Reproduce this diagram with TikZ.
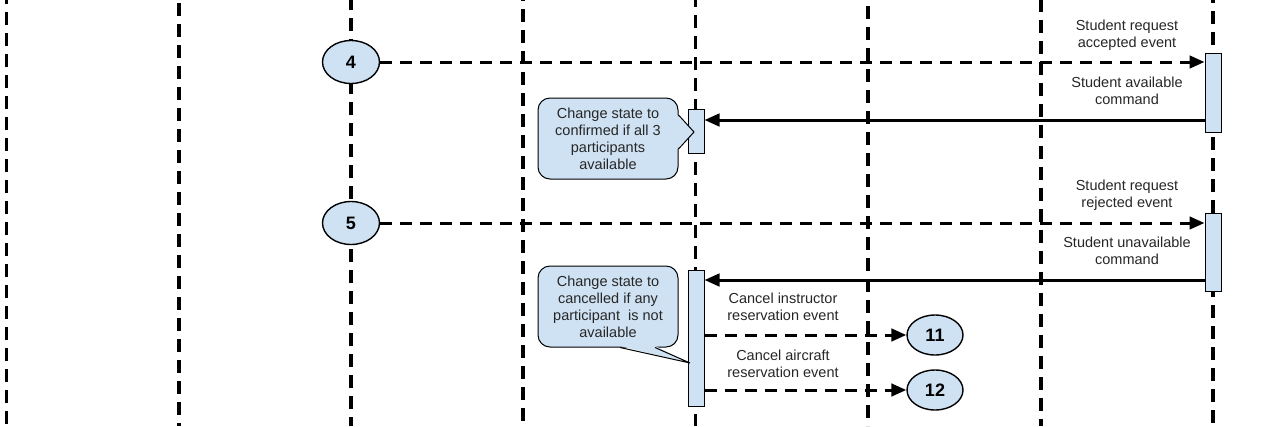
\documentclass[tikz,border=0pt]{standalone}
\usepackage{fontspec}
\setmainfont{Liberation Sans}
\usetikzlibrary{arrows.meta,shapes.geometric}
\definecolor{boxblue}{HTML}{CFE2F3}
\definecolor{txtgray}{HTML}{262626}
\begin{document}
\begin{tikzpicture}[x=1pt,y=-1pt,
  lifeline/.style={line width=3.2pt, dash pattern=on 13pt off 8pt},
  actbox/.style={draw=black, fill=boxblue, line width=1pt, minimum width=16pt, inner sep=0pt},
  msgdash/.style={line width=3pt, dash pattern=on 12pt off 8pt, -{Triangle[length=15pt,width=12.5pt]}},
  msgsolid/.style={line width=3pt, -{Triangle[length=15pt,width=12.5pt]}},
  numnode/.style={ellipse, draw=black, fill=boxblue, line width=1.4pt, minimum width=57pt, minimum height=43pt, inner sep=0pt, font=\fontsize{18}{20}\selectfont\bfseries},
  lbl/.style={align=center, text=txtgray, inner sep=0pt, font=\fontsize{14.5}{17}\selectfont},
  callout/.style={draw=black, fill=boxblue, line width=1pt, rounded corners=12pt, minimum width=140pt, minimum height=81pt, align=center, text=txtgray, inner sep=0pt, font=\fontsize{14.5}{17}\selectfont},
  pointer/.style={draw=black, line width=1pt, line join=miter}
]
\useasboundingbox (0,0) rectangle (1280,426);
% lifelines
\foreach \x/\ph in {6.5/9, 179/18, 351/3, 523/12, 695.5/6, 868/15, 1041/1, 1213/10}
  \draw[lifeline, dash phase=\ph pt] (\x,0) -- (\x,426);

% activation boxes
\node[actbox, minimum height=79pt] (a1) at (1213,92.5) {};
\node[actbox, minimum height=78pt] (a2) at (1213,252) {};
\node[actbox, minimum height=44pt] (b1) at (696,131) {};
\node[actbox, minimum height=136pt] (b2) at (696,338) {};

% numbered ellipses
\node[numnode] (n4) at (351,62) {4};
\node[numnode] (n5) at (351,223) {5};
\node[numnode, minimum width=56pt, minimum height=40pt] (n11) at (935,335) {11};
\node[numnode, minimum width=56pt, minimum height=40pt] (n12) at (935,390) {12};

% message levels
\coordinate (y1) at (0,120);
\coordinate (y2) at (0,280);

% messages
\draw[msgdash] (n4.east) -- (a1.west |- n4.east);
\draw[msgsolid] (a1.west |- y1) -- (b1.east |- y1);
\draw[msgdash] (n5.east) -- (a2.west |- n5.east);
\draw[msgsolid] (a2.west |- y2) -- (b2.east |- y2);
\draw[msgdash] (b2.east |- n11.west) -- (n11.west);
\draw[msgdash] (b2.east |- n12.west) -- (n12.west);

% labels
\node[lbl] (l1) at (1127,35) {Student request\\accepted event};
\node[lbl] (l2) at (1127,90.5) {Student available\\command};
\node[lbl] (l3) at (1127,195) {Student request\\rejected event};
\node[lbl] (l4) at (1127,251) {Student unavailable\\command};
\node[lbl] (l5) at (783,307) {Cancel instructor\\reservation event};
\node[lbl] (l6) at (783,364) {Cancel aircraft\\reservation event};

% callout 1
\node[callout] (c1) at (608,138.5) {Change state to\\confirmed if all 3\\participants\\available};
\coordinate (t1) at (694,132);
\fill[boxblue] ([xshift=-1.5pt]c1.east |- 0,115) -- (t1) -- ([xshift=-1.5pt]c1.east |- 0,149) -- cycle;
\draw[pointer] (c1.east |- 0,115) -- (t1) -- (c1.east |- 0,149);

% callout 2
\node[callout] (c2) at (608,306.5) {Change state to\\cancelled if any\\participant\ \ is not\\available};
\coordinate (t2) at (690,363);
\fill[boxblue] ([yshift=1.5pt]c2.south -| 620,0) -- (t2) -- ([yshift=1.5pt]c2.south -| 655,0) -- cycle;
\draw[pointer] (c2.south -| 620,0) -- (t2) -- (c2.south -| 655,0);
\end{tikzpicture}
\end{document}
